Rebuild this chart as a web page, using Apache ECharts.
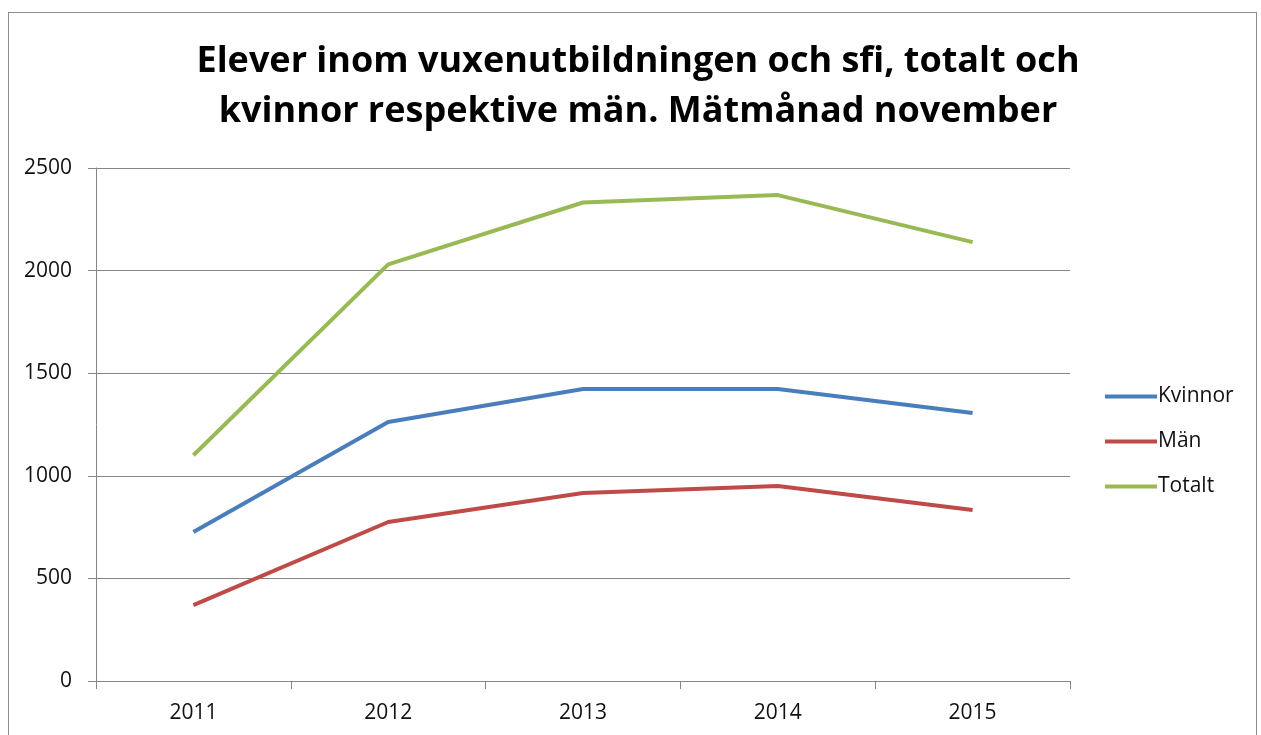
<!DOCTYPE html>
<html>
<head>
<meta charset="utf-8">
<script src="https://cdn.jsdelivr.net/npm/echarts@6/dist/echarts.min.js"></script>
<style>
  html, body { margin: 0; padding: 0; background: #fff; }
  #frame { position: absolute; left: 8px; top: 12px; width: 1249px; height: 740px; border: 1px solid #8c8c8c; box-sizing: border-box; }
  #chart { position: absolute; left: 0; top: 0; width: 1261px; height: 735px; }
</style>
</head>
<body>
<div id="frame"></div>
<div id="chart"></div>
<script>
// years on the x axis
const years = ['2011', '2012', '2013', '2014', '2015'];

// students per group
const kvinnor = [726, 1262, 1423, 1423, 1306];
const man = [370, 775, 916, 950, 833];
const totalt = [1100, 2030, 2332, 2368, 2139];

const seriesNames = ['Kvinnor', 'Män', 'Totalt'];
const seriesColors = ['#4a7ebb', '#be4b48', '#98b954'];

const chart = echarts.init(document.getElementById('chart'));

const axisGray = '#868686';
const labelStyle = { color: '#111', fontSize: 21, fontFamily: 'Open Sans' };

const makeLine = (name, data, color) => ({
  name: name,
  type: 'line',
  data: data,
  symbol: 'none',
  lineStyle: { width: 4, color: color },
  itemStyle: { color: color }
});

chart.setOption({
  animation: false,
  title: {
    text: 'Elever inom vuxenutbildningen och sfi, totalt och\nkvinnor respektive män. Mätmånad november',
    left: 633,
    textAlign: 'center',
    top: 32,
    textStyle: {
      fontFamily: 'Open Sans',
      fontWeight: 'bold',
      fontSize: 36,
      lineHeight: 50,
      color: '#000'
    }
  },
  legend: {
    orient: 'vertical',
    left: 1100,
    top: 381,
    itemWidth: 52,
    itemHeight: 4,
    itemGap: 24,
    icon: 'rect',
    textStyle: { ...labelStyle, padding: [0, 0, 0, -4] },
    data: seriesNames
  },
  grid: { left: 96, top: 168, right: 191, bottom: 54 },
  xAxis: {
    type: 'category',
    data: years,
    boundaryGap: true,
    axisLine: { lineStyle: { color: axisGray, width: 1 } },
    axisTick: { show: true, length: 8, lineStyle: { color: axisGray } },
    axisLabel: { ...labelStyle, margin: 22 }
  },
  yAxis: {
    type: 'value',
    min: 0,
    max: 2500,
    interval: 500,
    axisLine: { show: true, lineStyle: { color: axisGray, width: 1 } },
    axisTick: { show: true, length: 8, lineStyle: { color: axisGray } },
    axisLabel: { ...labelStyle, margin: 24, formatter: v => String(v) },
    splitLine: { lineStyle: { color: axisGray, width: 1 } }
  },
  series: [
    makeLine(seriesNames[0], kvinnor, seriesColors[0]),
    makeLine(seriesNames[1], man, seriesColors[1]),
    makeLine(seriesNames[2], totalt, seriesColors[2])
  ]
});

window.addEventListener('resize', () => chart.resize());
</script>
</body>
</html>
